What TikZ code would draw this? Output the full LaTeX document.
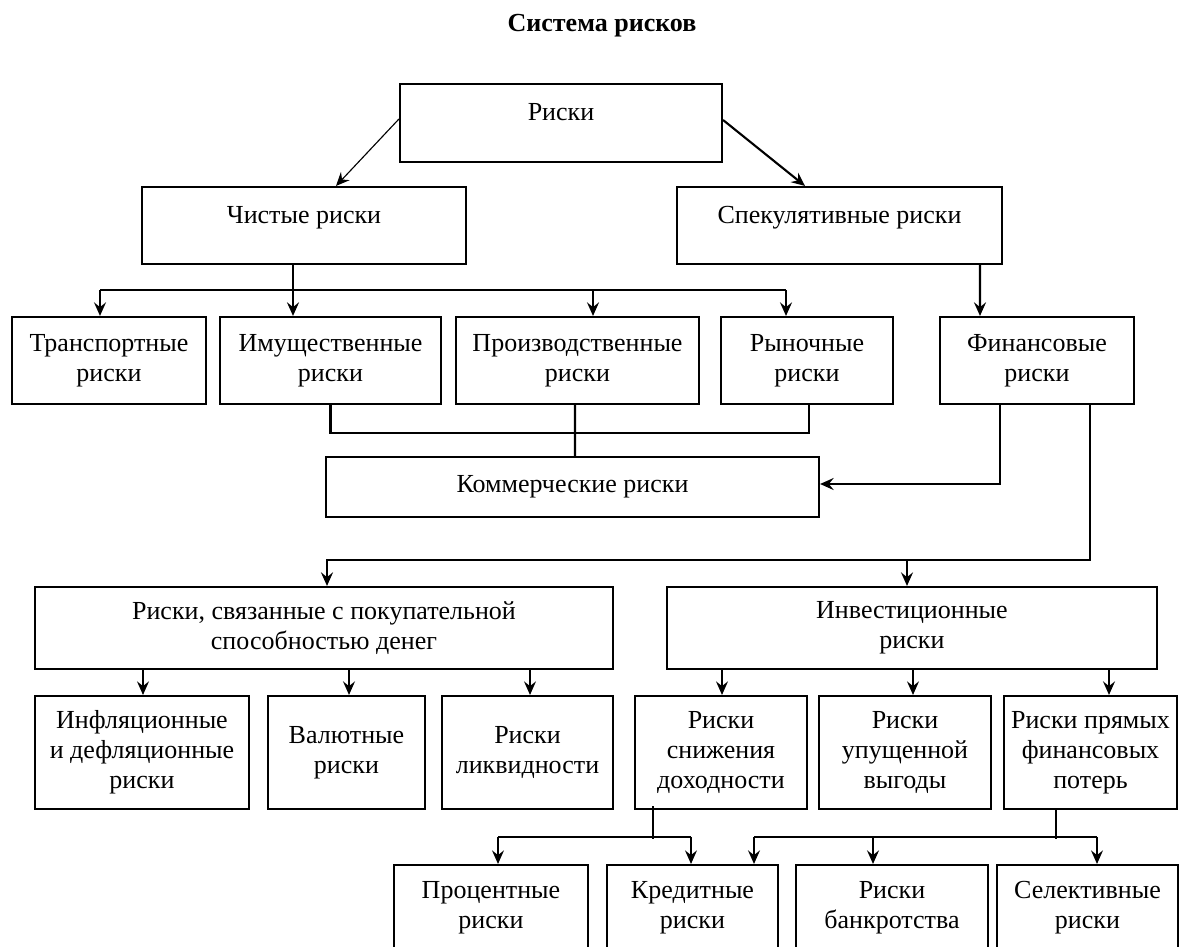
\documentclass[tikz,border=0pt]{standalone}
\usepackage{fontspec}
\setmainfont{Liberation Serif}
\usetikzlibrary{arrows.meta,calc}
\newcommand\fsz{\fontsize{18.5}{21.3}\selectfont}
\begin{document}
\begin{tikzpicture}[x=0.025cm,y=-0.025cm,
  box/.style={draw,line width=1.5pt,inner sep=0pt,align=center,font=\fsz},
  wh/.style 2 args={minimum width={#1*0.025cm},minimum height={#2*0.025cm}},
  upper/.style={text depth=0.55cm},
  ln/.style={line width=1.2pt},
  lnthin/.style={line width=0.8pt},
  lnthick/.style={line width=1.5pt},
  arr/.style={-{Stealth[length=0.34cm,width=0.3cm,inset=0.12cm]},line width=1.2pt}]
\useasboundingbox (0,0) rectangle (1180,947);
\clip (0,0) rectangle (1180,947);

\node[font=\fsz\bfseries] (title) at (602,26) {Система рисков};

\node[box,upper,wh={322}{78}] (r0) at (561,123) {Риски};
\node[box,upper,wh={324}{77}] (r1) at (304,225.5) {Чистые риски};
\node[box,upper,wh={325}{77}] (r2) at (839.5,225.5) {Спекулятивные риски};

\node[box,wh={194}{87}] (tr) at (109,360.5) {Транспортные\\риски};
\node[box,wh={221}{87}] (im) at (330.5,360.5) {Имущественные\\риски};
\node[box,wh={243}{87}] (pr) at (577.5,360.5) {Производственные\\риски};
\node[box,wh={172}{87}] (ry) at (807,360.5) {Рыночные\\риски};
\node[box,wh={194}{87}] (fin) at (1037,360.5) {Финансовые\\риски};

\node[box,wh={493}{60}] (kom) at (572.5,487) {Коммерческие риски};

\node[box,wh={578}{82}] (pp) at (324,628) {Риски, связанные с покупательной\\способностью денег};
\node[box,wh={490}{82}] (inv) at (912,628) {Инвестиционные\\риски};

\node[box,wh={214}{113}] (inf) at (142,752.5) {Инфляционные\\и дефляционные\\риски};
\node[box,wh={157}{113}] (val) at (346.5,752.5) {Валютные\\риски};
\node[box,wh={171}{113}] (liq) at (527.5,752.5) {Риски\\ликвидности};
\node[box,wh={172}{113}] (sn) at (721,752.5) {Риски\\снижения\\доходности};
\node[box,wh={172}{113}] (up) at (905,752.5) {Риски\\упущенной\\выгоды};
\node[box,wh={173}{113}] (pm) at (1090.5,752.5) {Риски прямых\\финансовых\\потерь};

\node[box,wh={194}{85}] (pc) at (491,907.5) {Процентные\\риски};
\node[box,wh={171}{85}] (kr) at (692.5,907.5) {Кредитные\\риски};
\node[box,wh={192}{85}] (bk) at (892,907.5) {Риски\\банкротства};
\node[box,wh={181}{85}] (se) at (1087.5,907.5) {Селективные\\риски};

% top level
\draw[arr,lnthin] ($(r0.west)+(0,-4)$) -- ($(r1.north)+(32,0)$);
\draw[arr,lnthick] ($(r0.east)+(0,-3)$) -- ($(r2.north)+(-34.5,0)$);

% pure risks bus
\coordinate (bl) at ($(tr.north)+(-9,-26)$);
\coordinate (br) at ($(ry.north)+(-21,-26)$);
\draw[lnthick] (bl) -- (br);
\draw[arr,lnthick] ($(r1.south)+(-11,0)$) -- ($(im.north)+(-37.5,0)$);
\draw[arr] (bl) -- ($(tr.north)+(-9,0)$);
\draw[arr] ($(pr.north)+(15.5,-26)$) -- ($(pr.north)+(15.5,0)$);
\draw[arr] (br) -- ($(ry.north)+(-21,0)$);

% speculative -> financial
\draw[arr,lnthick] ($(r2.south)+(140.5,0)$) -- ($(fin.north)+(-57,0)$);

% commercial
\draw[lnthick] (im.south) -- ++(0,28) -| ($(ry.south)+(2,0)$);
\draw[lnthick] ($(pr.south)+(-2.5,0)$) -- ($(kom.north)+(2.5,0)$);
\draw[arr,lnthick] ($(fin.south)+(-37,0)$) |- ($(kom.east)+(0,-3)$);

% financial -> purchasing power / investment
\draw[arr,lnthick] ($(fin.south)+(53,0)$) |- ($(pp.north)+(3,-26)$) -- ($(pp.north)+(3,0)$);
\draw[arr] ($(inv.north)+(-5,-26)$) -- ($(inv.north)+(-5,0)$);

% purchasing power children
\draw[arr,lnthin] ($(pp.south -| inf.north)+(1,0)$) -- ($(inf.north)+(1,0)$);
\draw[arr] ($(pp.south -| val.north)+(2.5,0)$) -- ($(val.north)+(2.5,0)$);
\draw[arr,lnthin] ($(pp.south -| liq.north)+(2.5,0)$) -- ($(liq.north)+(2.5,0)$);

% investment children
\draw[arr,lnthin] ($(inv.south -| sn.north)+(1,0)$) -- ($(sn.north)+(1,0)$);
\draw[arr,lnthin] ($(inv.south -| up.north)+(8,0)$) -- ($(up.north)+(8,0)$);
\draw[arr] ($(inv.south -| pm.north)+(18.5,0)$) -- ($(pm.north)+(18.5,0)$);

% income reduction children
\draw[lnthick] ($(sn.south)+(-68,-4)$) -- ++(0,33);
\draw[lnthick] ($(pc.north)+(7,-27)$) -- ($(kr.north)+(-1.5,-27)$);
\draw[arr,lnthin] ($(pc.north)+(7,-27)$) -- ($(pc.north)+(7,0)$);
\draw[arr,lnthin] ($(kr.north)+(-1.5,-27)$) -- ($(kr.north)+(-1.5,0)$);

% direct financial loss children
\draw[lnthick] ($(pm.south)+(-34.5,0)$) -- ++(0,29);
\draw[lnthick] ($(kr.north)+(61.5,-27)$) -- ($(se.north)+(9.5,-27)$);
\draw[arr] ($(kr.north)+(61.5,-27)$) -- ($(kr.north)+(61.5,0)$);
\draw[arr] ($(bk.north)+(-19,-27)$) -- ($(bk.north)+(-19,0)$);
\draw[arr,lnthin] ($(se.north)+(9.5,-27)$) -- ($(se.north)+(9.5,0)$);
\end{tikzpicture}
\end{document}
